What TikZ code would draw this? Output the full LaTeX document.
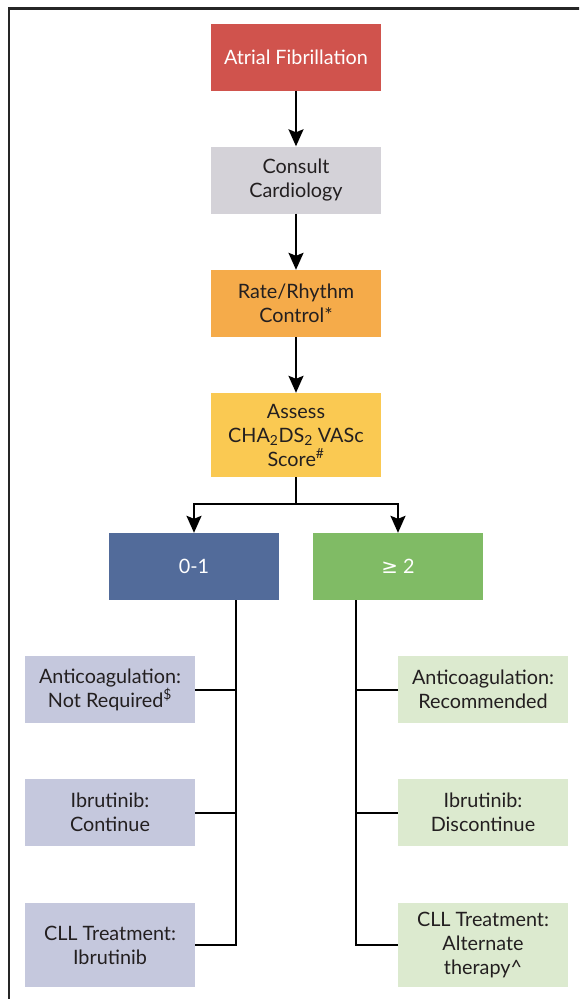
\documentclass[tikz,border=0pt]{standalone}
\usepackage{fontspec}
\setmainfont{Lato}
\newfontfamily\symfont{DejaVu Sans}
\usetikzlibrary{arrows.meta,calc}
\definecolor{afred}{HTML}{D0534D}
\definecolor{cardgrey}{HTML}{D4D2D8}
\definecolor{rateorange}{HTML}{F5AB4A}
\definecolor{scoreyellow}{HTML}{FAC952}
\definecolor{lowblue}{HTML}{526B9A}
\definecolor{highgreen}{HTML}{80BB65}
\definecolor{lowpale}{HTML}{C5C8DD}
\definecolor{highpale}{HTML}{DCEACF}
\definecolor{txtdark}{HTML}{231F20}

\begin{document}
\begin{tikzpicture}[x=1pt, y=-1pt,
		box/.style={rectangle, minimum width=170pt, minimum height=67pt, inner sep=0pt, align=center, text=txtdark, font=\fontsize{19.8}{24}\selectfont},
		tallbox/.style={box, minimum height=84pt},
		flow/.style={line width=2pt, -{Stealth[length=17pt, width=15pt, inset=3pt]}},
		branch/.style={line width=2pt}]
			%%%%% START %%%%%
			
			\clip (0, 0) rectangle (579, 999);
			\fill[white] (0, 0) rectangle (579, 999);
			\draw[line width=2.5pt, color=black!85] (9, 1100) -- (9, 8.5) -- (700, 8.5);
			
			\node[box, fill=afred, text=white] (afib) at (296, 57) {Atrial Fibrillation};
			\node[box, fill=cardgrey] (consult) at (296, 180) {Consult\\Cardiology};
			\node[box, fill=rateorange] (rate) at (296, 303.5) {Rate/Rhythm\\Control*};
			\node[tallbox, fill=scoreyellow] (assess) at (296, 435) {Assess\\CHA\textsubscript{2}DS\textsubscript{2} VASc\\Score\textsuperscript{\#}};
			
			\node[box, fill=lowblue, text=white] (low) at (194, 566.5) {0-1};
			\node[box, fill=highgreen, text=white] (high) at (398, 566.5) {{\symfont ≥} 2};
			
			\node[box, fill=lowpale] (anticoagL) at (110, 689.5) {Anticoagulation:\\Not Required\textsuperscript{\$}};
			\node[box, fill=lowpale] (ibruL) at (110, 812.5) {Ibrutinib:\\Continue};
			\node[tallbox, fill=lowpale] (cllL) at (110, 945) {CLL Treatment:\\Ibrutinib};
			
			\node[box, fill=highpale] (anticoagR) at (483, 689.5) {Anticoagulation:\\Recommended};
			\node[box, fill=highpale] (ibruR) at (483, 812.5) {Ibrutinib:\\Discontinue};
			\node[tallbox, fill=highpale] (cllR) at (483, 945) {CLL Treatment:\\Alternate\\therapy\textasciicircum};
			
			\draw[flow] (afib) -- (consult);
			\draw[flow] (consult) -- (rate);
			\draw[flow] (rate) -- (assess);
			
			\coordinate (fork) at ($(assess.south)+(0, 27)$);
			\draw[branch] (assess) -- (fork);
			\draw[flow] (fork) -| (low);
			\draw[flow] (fork) -| (high);
			
			\coordinate (lspine) at ($(low.south)+(42, 0)$);
			\draw[branch] (lspine) |- (cllL);
			\draw[branch] (anticoagL) -- (anticoagL -| lspine);
			\draw[branch] (ibruL) -- (ibruL -| lspine);
			
			\coordinate (rspine) at ($(high.south)+(-42, 0)$);
			\draw[branch] (rspine) |- (cllR);
			\draw[branch] (anticoagR) -- (anticoagR -| rspine);
			\draw[branch] (ibruR) -- (ibruR -| rspine);
			
			%%%%% END %%%%%
\end{tikzpicture}
\end{document}
